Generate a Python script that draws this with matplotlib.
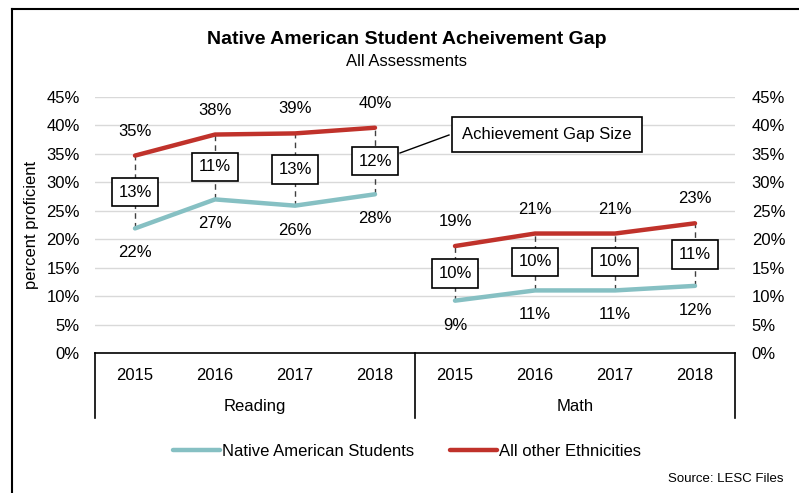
import matplotlib
matplotlib.use('Agg')
from matplotlib import pyplot as plt
from matplotlib.lines import Line2D
import numpy as np

plt.rcParams['font.family'] = ['Liberation Sans', 'DejaVu Sans']

years = ['2015', '2016', '2017', '2018']
subjects = ['Reading', 'Math']

# percent proficient, per subject (2015-2018)
native_reading = [21.9, 27.0, 25.9, 27.9]
native_math = [9.2, 11.0, 11.0, 11.8]
others_reading = [34.7, 38.4, 38.6, 39.6]
others_math = [18.8, 21.0, 21.0, 22.8]

native_color = '#86C0C3'
others_color = '#C0322B'

fig = plt.figure(figsize=(7.99, 4.93), dpi=100)
W, H = 799, 493
ax = fig.add_axes([95 / W, 1 - 353 / H, 640 / W, 256 / H])

native = native_reading + native_math
others = others_reading + others_math

for i, subj in enumerate(subjects):
    xs = np.arange(4) + 4 * i
    ax.plot(xs, native[4 * i:4 * i + 4], color=native_color, lw=3.2, solid_capstyle='round', zorder=3)
    ax.plot(xs, others[4 * i:4 * i + 4], color=others_color, lw=3.2, solid_capstyle='round', zorder=3)

for x in range(8):
    lo, hi = native[x], others[x]
    ax.plot([x, x], [lo, hi], color='#404040', lw=1, ls=(0, (4, 3)), zorder=2)
    ax.text(x, hi + 4.3, '{:.0f}%'.format(hi), ha='center', va='center', fontsize=12)
    ax.text(x, lo - 4.3, '{:.0f}%'.format(lo), ha='center', va='center', fontsize=12)
    gap = hi - lo
    ax.text(x, (lo + hi) / 2, '{:.0f}%'.format(gap), ha='center', va='center', fontsize=12, zorder=4,
            bbox=dict(boxstyle='square,pad=0.4', fc='white', ec='black', lw=1.2))

ax.set_xlim(-0.5, 7.5)
ax.set_ylim(0, 45)
yt = np.arange(0, 46, 5)
ax.set_yticks(yt)
ax.set_yticklabels(['{}%'.format(v) for v in yt], fontsize=12)
ax.yaxis.grid(True, color='#D9D9D9', lw=1)
ax.set_axisbelow(True)
ax.set_xticks([])
for s in ['left', 'right', 'top']:
    ax.spines[s].set_visible(False)
ax.spines['bottom'].set_color('black')
ax.spines['bottom'].set_linewidth(1.2)
ax.tick_params(axis='y', length=0, pad=11)
ax.set_ylabel('percent proficient', fontsize=12, labelpad=5)

ax2 = ax.twinx()
ax2.set_ylim(0, 45)
ax2.set_yticks(yt)
ax2.set_yticklabels(['{}%'.format(v) for v in yt], fontsize=12)
ax2.tick_params(axis='y', length=0, pad=12)
for s in ax2.spines.values():
    s.set_visible(False)

# two-level category axis
tr = ax.get_xaxis_transform()
for xv in [-0.5, 3.5, 7.5]:
    ax.plot([xv, xv], [0, -0.254], color='black', lw=1.2, transform=tr, clip_on=False)
for i, subj in enumerate(subjects):
    for j, yr in enumerate(years):
        ax.text(4 * i + j, -0.086, yr, transform=tr, ha='center', va='center', fontsize=12)
    ax.text(4 * i + 1.5, -0.21, subj, transform=tr, ha='center', va='center', fontsize=12)

# callout
fig.text(547 / W, 1 - 134 / H, 'Achievement Gap Size', ha='center', va='center', fontsize=12,
         bbox=dict(boxstyle='square,pad=0.6', fc='white', ec='black', lw=1.2))
fig.add_artist(Line2D([400 / W, 449 / W], [1 - 153 / H, 1 - 135 / H], color='black', lw=1))

fig.text(407 / W, 1 - 40 / H, 'Native American Student Acheivement Gap', ha='center', va='center',
         fontsize=14, fontweight='bold')
fig.text(407 / W, 1 - 61 / H, 'All Assessments', ha='center', va='center', fontsize=12)

handles = [Line2D([], [], color=native_color, lw=3.2, solid_capstyle='round'),
           Line2D([], [], color=others_color, lw=3.2, solid_capstyle='round')]
fig.legend(handles, ['Native American Students', 'All other Ethnicities'], loc='center',
           bbox_to_anchor=(407 / W, 1 - 451 / H), ncol=2, frameon=False, fontsize=12,
           handlelength=2.8, handletextpad=0.1, columnspacing=2.2)

fig.text(783 / W, 1 - 479 / H, 'Source: LESC Files', ha='right', va='center', fontsize=9.5)

# outer frame (left and top edges)
fig.add_artist(Line2D([12 / W, 12 / W], [0, 1 - 9 / H], color='black', lw=1.5))
fig.add_artist(Line2D([12 / W, 1], [1 - 9 / H, 1 - 9 / H], color='black', lw=1.5))

fig.savefig('out.png', dpi=100)
